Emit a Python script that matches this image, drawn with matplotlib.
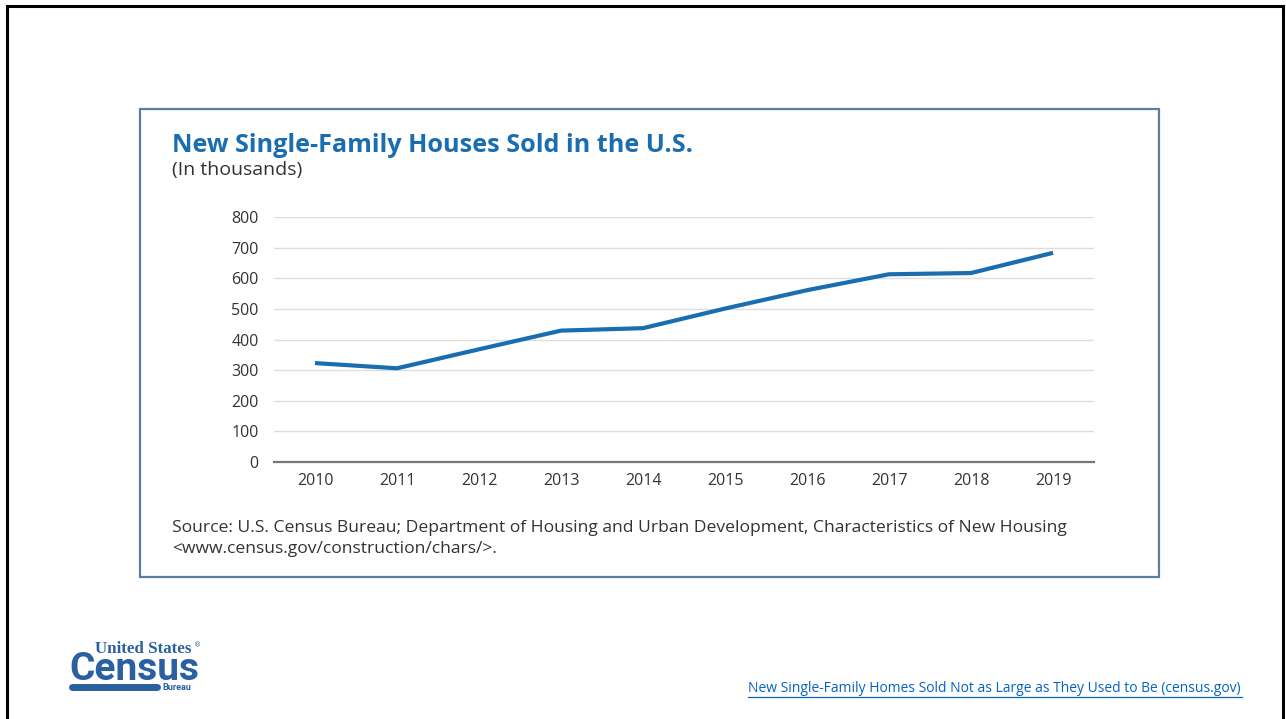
import matplotlib.pyplot as plt
from matplotlib.lines import Line2D
from matplotlib.patches import Rectangle

years = [2010, 2011, 2012, 2013, 2014, 2015, 2016, 2017, 2018, 2019]
houses_sold = [323, 306, 368, 429, 437, 501, 561, 613, 617, 683]
y_ticks = [0, 100, 200, 300, 400, 500, 600, 700, 800]

W, H = 1286, 719
fig = plt.figure(figsize=(W / 100, H / 100), dpi=100)
fig.patch.set_facecolor('white')


def fx(px):
    return px / W


def fy(py):
    return 1 - py / H


# slide border (left, top, right)
fig.add_artist(Line2D([fx(7), fx(7)], [0, fy(6)], color='black', lw=2.2))
fig.add_artist(Line2D([fx(7), fx(1283)], [fy(6), fy(6)], color='black', lw=2.2))
fig.add_artist(Line2D([fx(1283), fx(1283)], [0, fy(6)], color='black', lw=2.2))

# chart frame
fig.add_artist(Rectangle((fx(140), fy(577)), fx(1159) - fx(140), fy(109) - fy(577),
                         fill=False, edgecolor='#5d7d9c', lw=1.6))

blue = '#1a6eb0'
fig.text(fx(172), fy(146), 'New Single-Family Houses Sold in the U.S.',
         fontsize=18.2, fontweight='bold', color=blue, family='Open Sans', va='center')
fig.text(fx(172), fy(170), '(In thousands)', fontsize=14, color='#333333',
         family='Open Sans', va='center')

ax = fig.add_axes([fx(274), fy(462), fx(1094) - fx(274), fy(217) - fy(462)])
ax.plot(years, houses_sold, color=blue, lw=3, solid_capstyle='butt')
ax.set_xlim(2009.5, 2019.5)
ax.set_ylim(0, 800)
ax.set_yticks(y_ticks)
ax.set_xticks(years)
ax.grid(axis='y', color='#dddddd', lw=1)
ax.set_axisbelow(True)
for s in ['top', 'right', 'left']:
    ax.spines[s].set_visible(False)
ax.spines['bottom'].set_color('#777777')
ax.spines['bottom'].set_linewidth(1.6)
ax.tick_params(length=0, labelsize=11.5, labelcolor='#333333', pad=8)
ax.tick_params(axis='y', pad=11)
for lab in ax.get_xticklabels() + ax.get_yticklabels():
    lab.set_family('Open Sans')

fig.text(fx(172), fy(528),
         'Source: U.S. Census Bureau; Department of Housing and Urban Development, Characteristics of New Housing',
         fontsize=12.6, color='#333333', family='Open Sans', va='center')
fig.text(fx(172), fy(549), '<www.census.gov/construction/chars/>.',
         fontsize=12.6, color='#333333', family='Open Sans', va='center')

# census logo
logo = '#2a5fa0'
fig.text(fx(95), fy(653), 'United States', fontsize=12.2, fontweight='bold',
         color=logo, family='Liberation Serif', va='baseline')
fig.text(fx(194), fy(645), '®', fontsize=5, color=logo, va='center')
fig.text(fx(69), fy(680), 'Census', fontsize=28, fontweight='bold', color=logo,
         family='Roboto', va='baseline')
fig.add_artist(Line2D([fx(72), fx(157)], [fy(687), fy(687)], color=logo, lw=5,
                      solid_capstyle='round'))
fig.text(fx(162), fy(688), 'Bureau', fontsize=6.5, fontweight='bold', color=logo,
         family='Roboto', va='center')

# link
fig.text(fx(748), fy(689), 'New Single-Family Homes Sold Not as Large as They Used to Be (census.gov)',
         fontsize=10.0, color='#0563c1', family='Open Sans', va='center')
fig.add_artist(Line2D([fx(748), fx(1242)], [fy(697), fy(697)], color='#0563c1', lw=0.9))

fig.savefig('out.png', dpi=100)
